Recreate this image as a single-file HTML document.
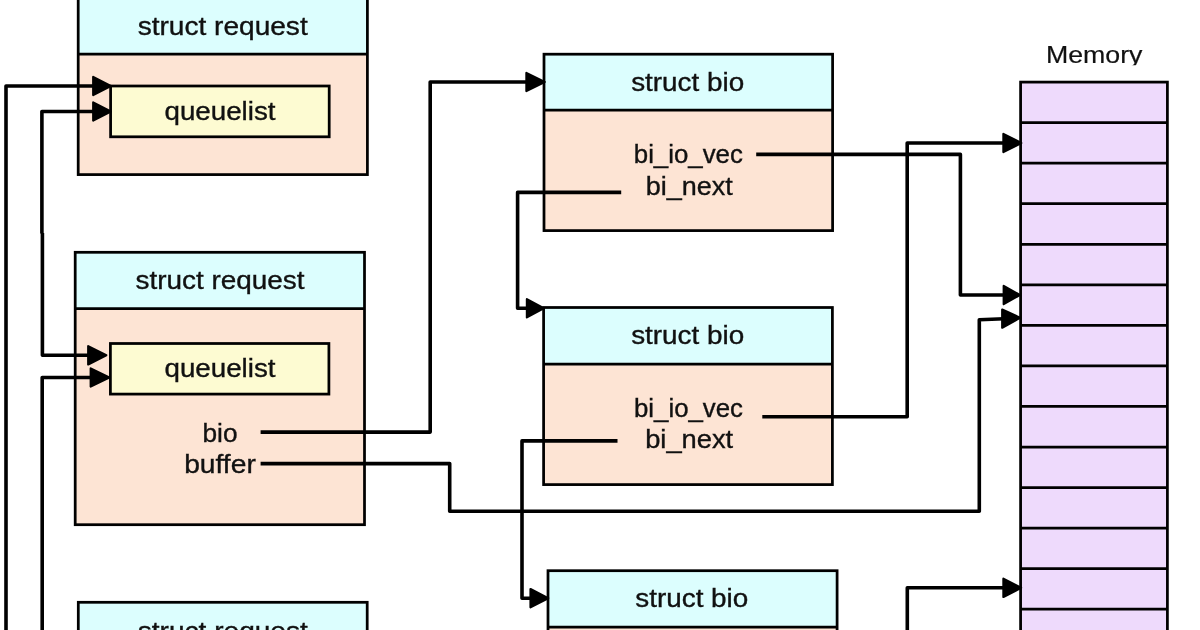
<!DOCTYPE html>
<html><head><meta charset="utf-8"><style>
html,body{margin:0;padding:0;background:#fff;width:1200px;height:630px;overflow:hidden}
svg{display:block}
text{font-family:"Liberation Sans",sans-serif;fill:#111;stroke:#111;stroke-width:0.35px}
svg{will-change:transform}
</style></head><body>
<svg width="1200" height="630" viewBox="0 0 1200 630">
<rect x="78.2" y="-2" width="289.2" height="56.1" fill="#dcfefe"/>
<rect x="78.2" y="54.1" width="289.2" height="120.5" fill="#fde4d4"/>
<rect x="78.2" y="-2" width="289.2" height="176.6" fill="none" stroke="#000" stroke-width="2.75"/>
<line x1="78.2" y1="54.1" x2="367.4" y2="54.1" stroke="#000" stroke-width="2.75"/>
<rect x="110.6" y="86.0" width="218.6" height="50.80000000000001" fill="#fdfbd2" stroke="#000" stroke-width="2.75"/>
<rect x="75.2" y="252.3" width="289.3" height="56.30000000000001" fill="#dcfefe"/>
<rect x="75.2" y="308.6" width="289.3" height="216.10000000000002" fill="#fde4d4"/>
<rect x="75.2" y="252.3" width="289.3" height="272.40000000000003" fill="none" stroke="#000" stroke-width="2.75"/>
<line x1="75.2" y1="308.6" x2="364.5" y2="308.6" stroke="#000" stroke-width="2.75"/>
<rect x="110.4" y="343.5" width="218.49999999999997" height="50.60000000000002" fill="#fdfbd2" stroke="#000" stroke-width="2.75"/>
<rect x="78.3" y="602.3" width="288.9" height="55.700000000000045" fill="#dcfefe"/>
<rect x="78.3" y="658" width="288.9" height="142" fill="#fde4d4"/>
<rect x="78.3" y="602.3" width="288.9" height="197.70000000000005" fill="none" stroke="#000" stroke-width="2.75"/>
<line x1="78.3" y1="658" x2="367.2" y2="658" stroke="#000" stroke-width="2.75"/>
<rect x="544" y="54.2" width="288.6" height="55.89999999999999" fill="#dcfefe"/>
<rect x="544" y="110.1" width="288.6" height="120.5" fill="#fde4d4"/>
<rect x="544" y="54.2" width="288.6" height="176.39999999999998" fill="none" stroke="#000" stroke-width="2.75"/>
<line x1="544" y1="110.1" x2="832.6" y2="110.1" stroke="#000" stroke-width="2.75"/>
<rect x="543.6" y="307.5" width="288.79999999999995" height="56.5" fill="#dcfefe"/>
<rect x="543.6" y="364.0" width="288.79999999999995" height="120.60000000000002" fill="#fde4d4"/>
<rect x="543.6" y="307.5" width="288.79999999999995" height="177.10000000000002" fill="none" stroke="#000" stroke-width="2.75"/>
<line x1="543.6" y1="364.0" x2="832.4" y2="364.0" stroke="#000" stroke-width="2.75"/>
<rect x="548" y="570.7" width="289.1" height="56.299999999999955" fill="#dcfefe"/>
<rect x="548" y="627.0" width="289.1" height="173.0" fill="#fde4d4"/>
<rect x="548" y="570.7" width="289.1" height="229.29999999999995" fill="none" stroke="#000" stroke-width="2.75"/>
<line x1="548" y1="627.0" x2="837.1" y2="627.0" stroke="#000" stroke-width="2.75"/>
<rect x="1020.6" y="82.1" width="146.80000000000007" height="700" fill="#eedafc" stroke="#000" stroke-width="2.75"/>
<line x1="1020.6" y1="122.6" x2="1167.4" y2="122.6" stroke="#000" stroke-width="2.75"/>
<line x1="1020.6" y1="163.2" x2="1167.4" y2="163.2" stroke="#000" stroke-width="2.75"/>
<line x1="1020.6" y1="203.7" x2="1167.4" y2="203.7" stroke="#000" stroke-width="2.75"/>
<line x1="1020.6" y1="244.3" x2="1167.4" y2="244.3" stroke="#000" stroke-width="2.75"/>
<line x1="1020.6" y1="284.8" x2="1167.4" y2="284.8" stroke="#000" stroke-width="2.75"/>
<line x1="1020.6" y1="325.3" x2="1167.4" y2="325.3" stroke="#000" stroke-width="2.75"/>
<line x1="1020.6" y1="365.9" x2="1167.4" y2="365.9" stroke="#000" stroke-width="2.75"/>
<line x1="1020.6" y1="406.4" x2="1167.4" y2="406.4" stroke="#000" stroke-width="2.75"/>
<line x1="1020.6" y1="447.0" x2="1167.4" y2="447.0" stroke="#000" stroke-width="2.75"/>
<line x1="1020.6" y1="487.5" x2="1167.4" y2="487.5" stroke="#000" stroke-width="2.75"/>
<line x1="1020.6" y1="528.0" x2="1167.4" y2="528.0" stroke="#000" stroke-width="2.75"/>
<line x1="1020.6" y1="568.6" x2="1167.4" y2="568.6" stroke="#000" stroke-width="2.75"/>
<line x1="1020.6" y1="609.1" x2="1167.4" y2="609.1" stroke="#000" stroke-width="2.75"/>
<line x1="1020.6" y1="649.7" x2="1167.4" y2="649.7" stroke="#000" stroke-width="2.75"/>
<line x1="1020.6" y1="690.2" x2="1167.4" y2="690.2" stroke="#000" stroke-width="2.75"/>
<text x="222.7" y="34.7" text-anchor="middle" textLength="170" lengthAdjust="spacingAndGlyphs" font-size="25" >struct request</text>
<text x="220" y="288.7" text-anchor="middle" textLength="169" lengthAdjust="spacingAndGlyphs" font-size="25" >struct request</text>
<text x="222.8" y="640.3" text-anchor="middle" textLength="170" lengthAdjust="spacingAndGlyphs" font-size="25" >struct request</text>
<text x="220" y="119.8" text-anchor="middle" textLength="111" lengthAdjust="spacingAndGlyphs" font-size="25" >queuelist</text>
<text x="220" y="377.2" text-anchor="middle" textLength="111" lengthAdjust="spacingAndGlyphs" font-size="25" >queuelist</text>
<text x="220" y="441.5" text-anchor="middle" textLength="35" lengthAdjust="spacingAndGlyphs" font-size="25" >bio</text>
<text x="220" y="472.8" text-anchor="middle" textLength="71.6" lengthAdjust="spacingAndGlyphs" font-size="25" >buffer</text>
<text x="687.7" y="91.1" text-anchor="middle" textLength="113" lengthAdjust="spacingAndGlyphs" font-size="25" >struct bio</text>
<text x="687.7" y="344.2" text-anchor="middle" textLength="113" lengthAdjust="spacingAndGlyphs" font-size="25" >struct bio</text>
<text x="691.8" y="606.8" text-anchor="middle" textLength="113" lengthAdjust="spacingAndGlyphs" font-size="25" >struct bio</text>
<text x="688.3" y="163.0" text-anchor="middle" textLength="109" lengthAdjust="spacingAndGlyphs" font-size="25" >bi_io_vec</text>
<text x="689.2" y="195.1" text-anchor="middle" textLength="87" lengthAdjust="spacingAndGlyphs" font-size="25" >bi_next</text>
<text x="688.5" y="417.0" text-anchor="middle" textLength="109" lengthAdjust="spacingAndGlyphs" font-size="25" >bi_io_vec</text>
<text x="689.2" y="447.7" text-anchor="middle" textLength="88" lengthAdjust="spacingAndGlyphs" font-size="25" >bi_next</text>
<clipPath id="mc"><rect x="1000" y="0" width="200" height="65.2"/></clipPath>
<text x="1094.2" y="63.4" text-anchor="middle" textLength="96.5" lengthAdjust="spacingAndGlyphs" font-size="24" clip-path="url(#mc)" style="stroke-width:0.2px">Memory</text>
<path d="M6,640 V86 H96" fill="none" stroke="#000" stroke-width="3.6" stroke-linejoin="round"/>
<path d="M93.2,76.9 L110.8,86 L93.2,95.1 Z" fill="#000" stroke="#000" stroke-width="2.2" stroke-linejoin="round"/>
<path d="M41.9,233.5 V111.5 H96" fill="none" stroke="#000" stroke-width="3.6" stroke-linejoin="round"/>
<path d="M93.2,102.4 L110.8,111.5 L93.2,120.6 Z" fill="#000" stroke="#000" stroke-width="2.2" stroke-linejoin="round"/>
<path d="M42.4,233 V355.3 H90" fill="none" stroke="#000" stroke-width="3.6" stroke-linejoin="round"/>
<path d="M88.2,346.2 L106.3,355.3 L88.2,364.40000000000003 Z" fill="#000" stroke="#000" stroke-width="2.2" stroke-linejoin="round"/>
<path d="M42.2,640 V377.5 H93" fill="none" stroke="#000" stroke-width="3.6" stroke-linejoin="round"/>
<path d="M90.7,368.4 L109.3,377.5 L90.7,386.6 Z" fill="#000" stroke="#000" stroke-width="2.2" stroke-linejoin="round"/>
<path d="M260.6,432.1 H430.2 V82.0 H529" fill="none" stroke="#000" stroke-width="3.6" stroke-linejoin="round"/>
<path d="M526.4000000000001,72.9 L544.6999999999999,82.0 L526.4000000000001,91.1 Z" fill="#000" stroke="#000" stroke-width="2.2" stroke-linejoin="round"/>
<path d="M260.6,463.6 H449.7 V511.2 H979.3 V319.7 L1004,318.7" fill="none" stroke="#000" stroke-width="3.6" stroke-linejoin="round"/>
<path d="M1002.2,309.5 L1020.0999999999999,317.8 L1002.2,327.70000000000005 Z" fill="#000" stroke="#000" stroke-width="2.2" stroke-linejoin="round"/>
<path d="M756.2,154.4 H960.4 V295 H1005" fill="none" stroke="#000" stroke-width="3.6" stroke-linejoin="round"/>
<path d="M1003.7,285.9 L1019.8,295 L1003.7,304.1 Z" fill="#000" stroke="#000" stroke-width="2.2" stroke-linejoin="round"/>
<path d="M621.2,192.4 H517.6 V308.3 H529" fill="none" stroke="#000" stroke-width="3.6" stroke-linejoin="round"/>
<path d="M526.9000000000001,299.2 L543.6999999999999,308.3 L526.9000000000001,317.40000000000003 Z" fill="#000" stroke="#000" stroke-width="2.2" stroke-linejoin="round"/>
<path d="M762.3,416.7 H907.2 V143 H1005" fill="none" stroke="#000" stroke-width="3.6" stroke-linejoin="round"/>
<path d="M1003.4000000000001,133.9 L1021.3,143 L1003.4000000000001,152.1 Z" fill="#000" stroke="#000" stroke-width="2.2" stroke-linejoin="round"/>
<path d="M617.5,440.9 H522 V598.2 H533" fill="none" stroke="#000" stroke-width="3.6" stroke-linejoin="round"/>
<path d="M530.5,589.1 L548.1999999999999,598.2 L530.5,607.3000000000001 Z" fill="#000" stroke="#000" stroke-width="2.2" stroke-linejoin="round"/>
<path d="M907.3,640 V587.8 H1005" fill="none" stroke="#000" stroke-width="3.6" stroke-linejoin="round"/>
<path d="M1003.4000000000001,578.6999999999999 L1021.0999999999999,587.8 L1003.4000000000001,596.9 Z" fill="#000" stroke="#000" stroke-width="2.2" stroke-linejoin="round"/>
</svg>
</body></html>
